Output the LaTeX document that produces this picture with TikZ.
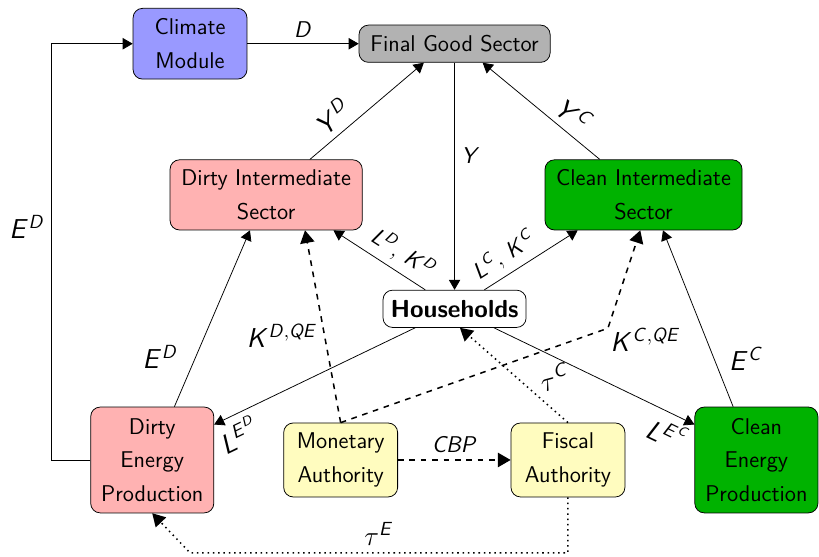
\documentclass[tikz,border=0pt]{standalone}
\usepackage{tikz}
\usetikzlibrary{arrows}

\DeclareMathAlphabet{\mathsfit}{OT1}{cmss}{m}{sl}
\newcommand{\sv}[1]{\mathsfit{#1}}

\begin{document}
\begin{tikzpicture}[font=\sffamily]

\tikzstyle{sector} = [rectangle, rounded corners=5pt, draw=black, align=center, font=\sffamily\large\linespread{1.27}\selectfont]
\tikzstyle{flow} = [-triangle 60]
\tikzstyle{policy} = [-triangle 60, thick, dashed]
\tikzstyle{tax} = [-triangle 60, thick, dotted]
\tikzstyle{biglab} = [font=\Large]
\tikzstyle{smalllab} = [font=\large]

\useasboundingbox (0,0) rectangle (15.17,10.30);

\node[sector, fill=blue!40, minimum width=2.11cm, minimum height=1.31cm] (climate) at (3.52, 9.49) {Climate\\Module};
\node[sector, fill=gray!60, minimum width=3.54cm, minimum height=0.69cm] (final) at (8.42, 9.49) {Final Good Sector};
\node[sector, fill=red!30, minimum width=3.56cm, minimum height=1.30cm] (dirtyint) at (4.93, 6.69) {Dirty Intermediate\\Sector};
\node[sector, fill=green!70!black, minimum width=3.65cm, minimum height=1.30cm] (cleanint) at (11.92, 6.69) {Clean Intermediate\\Sector};
\node[sector, fill=white, font=\sffamily\fontsize{13}{16}\selectfont\bfseries, minimum width=2.65cm, minimum height=0.69cm] (house) at (8.42, 4.58) {Households};
\node[sector, fill=red!30, minimum width=2.28cm, minimum height=1.96cm] (dirtyen) at (2.82, 1.78) {Dirty\\Energy\\Production};
\node[sector, fill=yellow!25, minimum width=2.11cm, minimum height=1.37cm] (monetary) at (6.31, 1.78) {Monetary\\Authority};
\node[sector, fill=yellow!25, minimum width=2.11cm, minimum height=1.37cm] (fiscal) at (10.52, 1.78) {Fiscal\\Authority};
\node[sector, fill=green!70!black, minimum width=2.28cm, minimum height=1.96cm] (cleanen) at (14.01, 1.78) {Clean\\Energy\\Production};

\coordinate (qec) at (11.26, 4.22);
\coordinate (taue) at (3.52, 0.06);

\draw[flow] (climate) -- node[above, smalllab]{$\sv{D}$} (final);
\draw[flow] (final) -- node[pos=0.41, right, smalllab]{$\sv{Y}$} (house);
\draw[flow] ([xshift=0.81cm]dirtyint.north) -- node[pos=0.3, sloped, above, biglab]{$\sv{Y}^{\sv{D}}$} ([xshift=-0.57cm]final.south);
\draw[flow] ([xshift=-0.81cm]cleanint.north) -- node[pos=0.32, sloped, above, biglab]{$\sv{Y}^{\sv{C}}$} ([xshift=0.52cm]final.south);

\draw[flow] (house) -- node[pos=0.35, sloped, above, smalllab]{$\sv{L}^{\sv{D}}$, $\sv{K}^{\sv{D}}$} ([xshift=-0.54cm]dirtyint.south east);
\draw[flow] (house) -- node[pos=0.32, sloped, above, smalllab]{$\sv{L}^{\sv{C}}$, $\sv{K}^{\sv{C}}$} ([xshift=-1.22cm]cleanint.south);
\draw[flow] (house) -- node[pos=0.92, sloped, below, biglab]{$\sv{L}^{\sv{E}^{\sv{D}}}$} ([yshift=-0.33cm]dirtyen.north east);
\draw[flow] (house) -- node[pos=0.91, sloped, below, biglab]{$\sv{L}^{\sv{E}^{\sv{C}}}$} ([yshift=-0.33cm]cleanen.north west);

\draw[flow] ([xshift=0.41cm]dirtyen.north) -- node[pos=0.28, left, xshift=-0.2cm, biglab]{$\sv{E}^{\sv{D}}$} ([xshift=-0.3cm]dirtyint.south);
\draw[flow] ([xshift=-0.43cm]cleanen.north) -- node[pos=0.27, right, xshift=0.15cm, biglab]{$\sv{E}^{\sv{C}}$} ([xshift=0.36cm]cleanint.south);
\draw[flow] (dirtyen.west) -- ++(-0.72,0) |- node[pos=0.28, left, biglab]{$\sv{E}^{\sv{D}}$} (climate.west);

\draw[policy] (monetary.north) -- node[pos=0.45, left, biglab]{$\sv{K}^{\sv{D},\sv{QE}}$} ([xshift=0.72cm]dirtyint.south);
\draw[policy] (monetary.north) -- (qec) node[right, xshift=-0.08cm, yshift=-0.22cm, biglab]{$\sv{K}^{\sv{C},\sv{QE}}$} -- ([xshift=-0.06cm]cleanint.south);
\draw[policy] (monetary) -- node[above, smalllab]{$\sv{CBP}$} (fiscal);

\draw[tax] (fiscal.north) -- node[pos=0.42, right, xshift=0.2cm, rotate=15, biglab]{$\tau^{\sv{C}}$} ([xshift=0.1cm]house.south);
\draw[tax] (fiscal.south) |- node[pos=0.75, above, biglab]{$\tau^{\sv{E}}$} (taue) -- (dirtyen.south);

\end{tikzpicture}
\end{document}
